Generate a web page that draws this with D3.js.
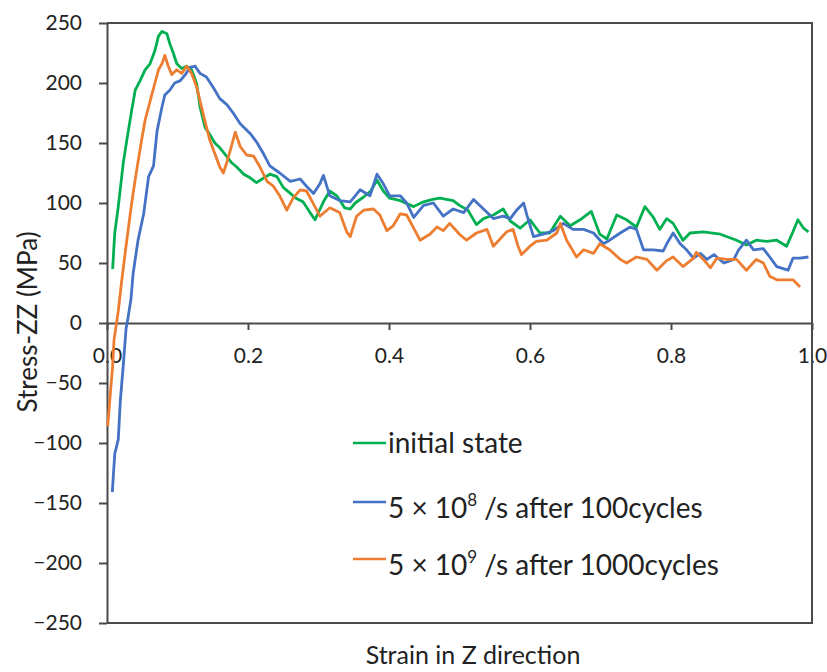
<!DOCTYPE html>
<html><head><meta charset="utf-8">
<script src="https://cdn.jsdelivr.net/npm/d3@7/dist/d3.min.js"></script>
<style>html,body{margin:0;padding:0;background:#fff;}svg{display:block;font-family:Lato,"Open Sans",sans-serif;}</style>
</head><body><svg id="chart" width="827" height="672"></svg>
<script>
// Strain (x) and stress in MPa (y)
const greenStrain = [0.008,0.011,0.016,0.023,0.028,0.035,0.040,0.047,0.054,0.061,0.068,0.073,0.078,0.085,0.089,0.094,0.099,0.106,0.113,0.120,0.127,0.132,0.139,0.146,0.153,0.160,0.167,0.176,0.184,0.194,0.203,0.212,0.220,0.231,0.241,0.250,0.260,0.268,0.278,0.288,0.295,0.307,0.316,0.326,0.337,0.345,0.352,0.364,0.374,0.383,0.392,0.401,0.416,0.435,0.449,0.462,0.472,0.491,0.500,0.512,0.524,0.534,0.548,0.562,0.572,0.586,0.600,0.614,0.628,0.643,0.657,0.671,0.687,0.699,0.709,0.723,0.737,0.751,0.763,0.775,0.784,0.794,0.803,0.817,0.827,0.846,0.870,0.893,0.907,0.921,0.936,0.950,0.964,0.973,0.980,0.988,0.995];
const greenStress = [45,75,97,133,152,177,194,202,211,216,227,239,243,241,233,225,216,212,214,211,200,180,163,157,150,146,141,134,130,124,121,117,120,124,122,113,108,104,101,92,86,101,110,106,96,95,100,105,110,119,110,104,102,97,101,103,104,102,98,94,82,87,90,95,85,79,86,75,75,89,81,86,93,74,70,90,86,80,97,88,78,87,83,69,75,76,74,69,65,69,68,69,64,76,86,79,76];

const blueStrain = [0.0075,0.011,0.016,0.019,0.023,0.027,0.030,0.034,0.037,0.044,0.052,0.059,0.066,0.071,0.078,0.082,0.089,0.096,0.104,0.111,0.118,0.125,0.132,0.141,0.151,0.160,0.170,0.179,0.189,0.203,0.212,0.222,0.231,0.245,0.260,0.274,0.283,0.293,0.302,0.307,0.316,0.330,0.345,0.359,0.373,0.383,0.392,0.401,0.416,0.425,0.435,0.449,0.463,0.477,0.491,0.506,0.520,0.534,0.548,0.562,0.572,0.581,0.591,0.596,0.605,0.619,0.633,0.647,0.661,0.676,0.690,0.704,0.713,0.728,0.742,0.751,0.761,0.775,0.789,0.794,0.803,0.813,0.822,0.832,0.842,0.851,0.861,0.875,0.889,0.896,0.907,0.917,0.931,0.940,0.950,0.966,0.973,0.983,0.995];
const blueStress = [-141,-109,-97,-64,-36,-5,5,20,41,69,91,122,131,160,180,190,194,200,202,207,213,214,208,205,196,187,182,175,166,158,151,141,131,125,118,120,114,108,116,123,106,102,101,111,106,124,116,106,106,100,88,98,100,89,95,92,103,95,87,89,87,94,100,89,72,74,77,83,78,78,75,66,69,75,80,78,61,61,60,66,75,66,61,54,58,53,57,50,53,61,69,61,62,55,47,44,54,54,55];

const orangeStrain = [0.001,0.004,0.008,0.010,0.014,0.016,0.021,0.027,0.033,0.037,0.042,0.049,0.054,0.059,0.063,0.068,0.073,0.078,0.082,0.087,0.092,0.099,0.106,0.113,0.120,0.127,0.132,0.139,0.146,0.153,0.160,0.165,0.170,0.174,0.182,0.189,0.198,0.208,0.217,0.227,0.236,0.245,0.255,0.264,0.274,0.283,0.293,0.302,0.316,0.330,0.340,0.345,0.354,0.364,0.378,0.387,0.397,0.406,0.416,0.425,0.435,0.444,0.458,0.468,0.477,0.486,0.500,0.510,0.524,0.539,0.548,0.567,0.576,0.583,0.588,0.600,0.609,0.624,0.638,0.643,0.652,0.666,0.676,0.690,0.699,0.713,0.728,0.737,0.751,0.766,0.780,0.794,0.803,0.817,0.832,0.836,0.846,0.856,0.865,0.879,0.893,0.907,0.921,0.931,0.940,0.950,0.973,0.983];
const orangeStress = [-86,-64,-36,-14,2,10,36,64,91,108,127,152,169,180,189,200,211,216,223,214,207,211,208,214,208,197,185,168,152,141,130,125,134,142,159,147,140,139,130,118,114,106,94,104,111,110,99,89,96,92,76,72,89,94,95,90,77,81,91,90,79,69,74,80,77,83,74,69,75,78,64,76,78,64,57,64,68,69,75,83,69,55,61,58,66,61,53,50,55,53,44,52,55,47,54,59,53,46,54,53,53,44,53,50,39,36,36,30];

const seriesNames = ["initial state", "5 × 10|8| /s after 100cycles", "5 × 10|9| /s after 1000cycles"];
const seriesColors = ["#00b050", "#4472c4", "#ed7d31"];
const xTicks = [0, 0.2, 0.4, 0.6, 0.8, 1.0];
const yTicks = [-250, -200, -150, -100, -50, 0, 50, 100, 150, 200, 250];
const xTitle = "Strain in Z direction";
const yTitle = "Stress-ZZ (MPa)";

const svg = d3.select("#chart");
const L = 107, R = 812, T = 23, B = 623;
const x = d3.scaleLinear().domain([0, 1]).range([L, R]);
const y = d3.scaleLinear().domain([-250, 250]).range([B, T]);
const axisColor = "#4a4a4a";
const textColor = "#222";

// x axis on zero line
const gx = svg.append("g").attr("transform", `translate(0,${y(0)})`)
  .call(d3.axisBottom(x).tickValues(xTicks).tickFormat(d3.format(".1f")).tickSize(7).tickSizeOuter(0).tickPadding(18));
gx.select(".domain").attr("stroke", axisColor).attr("stroke-width", 2);
gx.selectAll(".tick line").attr("stroke", axisColor).attr("stroke-width", 2);
gx.selectAll(".tick text").attr("font-size", 21).attr("fill", textColor).attr("font-family", "Lato");
gx.select(".domain").raise();

// y axis
const gy = svg.append("g").attr("transform", `translate(${L},0)`)
  .call(d3.axisLeft(y).tickValues(yTicks).tickFormat(d3.format("d")).tickSize(8).tickSizeOuter(0).tickPadding(17));
gy.select(".domain").attr("stroke", axisColor).attr("stroke-width", 2);
gy.selectAll(".tick line").attr("stroke", axisColor).attr("stroke-width", 2);
gy.selectAll(".tick text").attr("font-size", 21).attr("fill", textColor).attr("font-family", "Lato");

// frame (top, right, bottom)
svg.append("path")
  .attr("d", `M${L},${T}H${R}V${B}H${L}`)
  .attr("fill", "none").attr("stroke", axisColor).attr("stroke-width", 2);

// series
const data = [
  d3.zip(greenStrain, greenStress),
  d3.zip(blueStrain, blueStress),
  d3.zip(orangeStrain, orangeStress)
];
const line = d3.line().x(d => x(d[0])).y(d => y(d[1]));
[0, 1, 2].forEach(i => {
  svg.append("path").datum(data[i])
    .attr("d", line)
    .attr("fill", "none")
    .attr("stroke", seriesColors[i])
    .attr("stroke-width", 2.8)
    .attr("stroke-linejoin", "round");
});

// legend
const legY = [443, 502, 559];
const legBase = [453, 518, 575];
seriesNames.forEach((name, i) => {
  svg.append("line").attr("x1", 353).attr("x2", 386).attr("y1", legY[i]).attr("y2", legY[i])
    .attr("stroke", seriesColors[i]).attr("stroke-width", 2.5);
  const t = svg.append("text").attr("x", 388).attr("y", legBase[i])
    .attr("font-size", 28).attr("fill", textColor).attr("font-family", "Lato");
  const parts = name.split("|");
  t.append("tspan").text(parts[0]);
  if (parts.length > 1) {
    t.append("tspan").attr("font-size", 17).attr("dy", -12).text(parts[1]);
    t.append("tspan").attr("dy", 12).text(parts[2]);
  }
});

// titles
svg.append("text").attr("x", 473).attr("y", 664).attr("text-anchor", "middle")
  .attr("font-size", 25).attr("fill", textColor).attr("font-family", "Lato").text(xTitle);
svg.append("text").attr("transform", "translate(37,322) rotate(-90)").attr("text-anchor", "middle")
  .attr("font-size", 26).attr("fill", textColor).attr("font-family", "Lato").text(yTitle);
</script></body></html>
